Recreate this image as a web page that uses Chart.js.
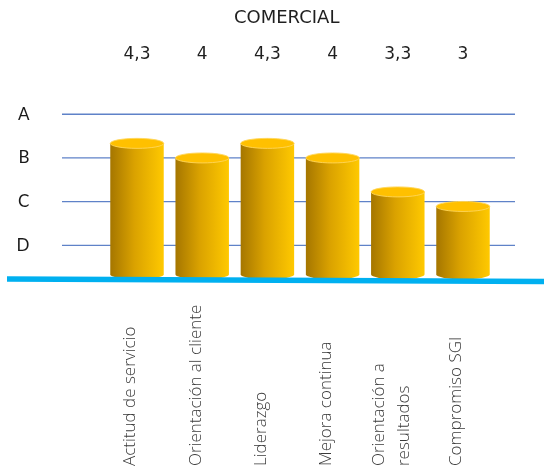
<!DOCTYPE html>
<html>
<head>
<meta charset="utf-8">
<script src="https://cdn.jsdelivr.net/npm/chart.js@4.4.1/dist/chart.umd.min.js"></script>
<style>
  html, body { margin: 0; padding: 0; background: #ffffff; }
  #wrap { width: 544px; height: 472px; position: relative; }
</style>
</head>
<body>
<div id="wrap"><canvas id="c" width="544" height="472"></canvas></div>
<script>
// Competency scores for the commercial area
const chartTitle = 'COMERCIAL';
const categories = [
  ['Actitud de servicio'],
  ['Orientación al cliente'],
  ['Liderazgo'],
  ['Mejora continua'],
  ['Orientación a', 'resultados'],
  ['Compromiso SGI']
];
const scores = [4.3, 4, 4.3, 4, 3.3, 3];
// Grade bands shown on the vertical axis
const gradeTicks = [2.2, 3.1, 4.0, 4.9];
const gradeLabels = ['D', 'C', 'B', 'A'];
const axisMin = 1.6;
const axisMax = 5.0;

const formatScore = v => String(v).replace('.', ',');

const cylinderPlugin = {
  id: 'cylinders',
  beforeDatasetsDraw(chart) {
    const { ctx, chartArea, scales: { y } } = chart;
    ctx.save();
    ctx.strokeStyle = '#5f82c8';
    ctx.lineWidth = 1.3;
    gradeTicks.forEach(v => {
      const py = y.getPixelForValue(v);
      ctx.beginPath();
      ctx.moveTo(chartArea.left - 42.4, py);
      ctx.lineTo(chartArea.right + 19.4, py);
      ctx.stroke();
    });
    ctx.restore();
  },
  afterDatasetsDraw(chart) {
    const { ctx, chartArea, scales: { y } } = chart;
    const meta = chart.getDatasetMeta(0);
    ctx.save();
    meta.data.forEach(bar => {
      const { x, y: top, base, width } = bar.getProps(['x', 'y', 'base', 'width'], true);
      const rx = width / 2, ry = 5;
      const g = ctx.createLinearGradient(x - rx, 0, x + rx, 0);
      g.addColorStop(0, '#a57600');
      g.addColorStop(0.45, '#daa200');
      g.addColorStop(1, '#ffc900');
      ctx.beginPath();
      ctx.moveTo(x - rx, top);
      ctx.lineTo(x - rx, base);
      ctx.ellipse(x, base, rx, ry, 0, Math.PI, 0, true);
      ctx.lineTo(x + rx, top);
      ctx.closePath();
      ctx.fillStyle = g;
      ctx.fill();
      // lid
      ctx.beginPath();
      ctx.ellipse(x, top, rx, ry, 0, 0, Math.PI * 2);
      ctx.fillStyle = '#ffc000';
      ctx.fill();
      ctx.strokeStyle = 'rgba(255,214,90,0.9)';
      ctx.lineWidth = 1;
      ctx.stroke();
    });

    // floor line
    const floor = y.getPixelForValue(axisMin) + 4.6;
    ctx.beginPath();
    ctx.moveTo(7, floor);
    ctx.lineTo(544, floor + 2.6);
    ctx.strokeStyle = '#00b0f0';
    ctx.lineWidth = 5.5;
    ctx.stroke();

    // title
    ctx.fillStyle = '#1f1f1f';
    ctx.textAlign = 'center';
    ctx.textBaseline = 'middle';
    ctx.font = '18px "DejaVu Sans"';
    ctx.fillText(chartTitle, (chartArea.left + chartArea.right) / 2 - 13.3, 18.5);

    // score row
    ctx.font = '17px "DejaVu Sans"';
    meta.data.forEach((bar, i) => {
      ctx.fillText(formatScore(scores[i]), bar.x, 54.5);
    });

    // category names, rotated and anchored at the bottom
    ctx.font = '300 17px "Open Sans"';
    ctx.fillStyle = '#3a3a3a';
    ctx.textAlign = 'left';
    meta.data.forEach((bar, i) => {
      const lines = categories[i];
      lines.forEach((line, j) => {
        const off = (j - (lines.length - 1) / 2) * 25;
        ctx.save();
        ctx.translate(bar.x - 6.5 + off, 466);
        ctx.rotate(-Math.PI / 2);
        ctx.fillText(line, 0, 0);
        ctx.restore();
      });
    });
    ctx.restore();
  }
};

new Chart(document.getElementById('c'), {
  type: 'bar',
  data: {
    labels: categories,
    datasets: [{
      data: scores,
      base: axisMin,
      backgroundColor: 'rgba(0,0,0,0)',
      borderWidth: 0,
      barPercentage: 0.82,
      categoryPercentage: 1
    }]
  },
  options: {
    responsive: false,
    animation: false,
    layout: { padding: { top: 109.4, bottom: 197.6, left: 0, right: 48.4 } },
    plugins: {
      legend: { display: false },
      tooltip: { enabled: false },
      title: { display: false }
    },
    scales: {
      x: { display: false },
      y: {
        min: axisMin,
        max: axisMax,
        grid: { display: false },
        border: { display: false },
        afterBuildTicks: s => { s.ticks = gradeTicks.map(v => ({ value: v })); },
        afterFit: s => { s.width = 104.4; },
        ticks: {
          padding: 67,
          font: { family: 'Lato', size: 17 },
          color: '#1a1a1a',
          callback: (v, i) => gradeLabels[i]
        }
      }
    }
  },
  plugins: [cylinderPlugin]
});
</script>
</body>
</html>
